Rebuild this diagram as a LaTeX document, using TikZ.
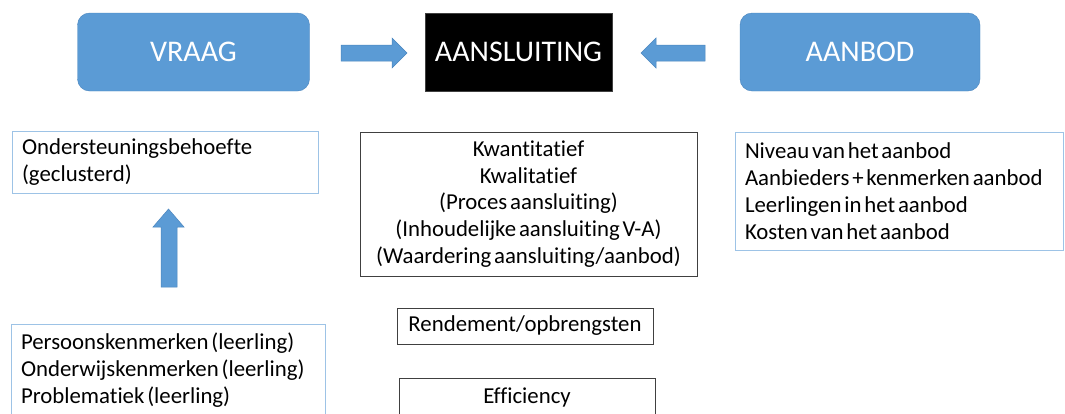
\documentclass[tikz,border=0pt]{standalone}
\usepackage{fontspec}
\setmainfont{Carlito}[Ligatures=NoCommon, WordSpace={0.55,0.5,0.3}]
\definecolor{bfill}{HTML}{5B9BD5}
\definecolor{bdark}{HTML}{4A85BE}
\definecolor{blight}{HTML}{9DC3E6}
\definecolor{gline}{HTML}{404040}
\tikzset{
  topbox/.style={draw=bdark, fill=bfill, rounded corners=12pt, text=white,
    minimum height=78pt, font=\fontsize{30}{34}\selectfont, inner sep=0pt},
  blackbox/.style={draw=gline, fill=black, text=white,
    minimum height=78pt, font=\fontsize{30}{34}\selectfont, inner sep=0pt},
  bluelist/.style={draw=blight, line width=1pt, align=flush left, inner xsep=10pt, inner ysep=0pt,
    font=\fontsize{22.8}{26.8}\selectfont},
  graylist/.style={draw=gline, line width=0.8pt, align=center, inner xsep=0pt, inner ysep=0pt,
    font=\fontsize{22.8}{26.8}\selectfont},
  blockarrow/.style={draw=bdark, fill=bfill, line width=0.5pt},
}
\begin{document}
\begin{tikzpicture}[x=1pt,y=-1pt]
\useasboundingbox (0,0) rectangle (1065,413);
\clip (0,0) rectangle (1065,413);
% top row
\node[topbox, minimum width=232pt] (vraag) at (193.5,52) {VRAAG};
\node[blackbox, minimum width=187pt] (aansl) at (518.5,52) {AANSLUITING};
\node[topbox, minimum width=240pt] (aanbod) at (860,52) {AANBOD};
% block arrows
\filldraw[blockarrow] (341,45) -- (392,45) -- (392,38) -- (407,53) -- (392,68) -- (392,61) -- (341,61) -- cycle;
\filldraw[blockarrow] (705,45) -- (656,45) -- (656,38) -- (641,53) -- (656,68) -- (656,61) -- (705,61) -- cycle;
% left column
\node[bluelist, text width=286pt, minimum height=62pt] (onder) at (165,162)
  {\mbox{Ondersteuningsbehoefte}\\\mbox{(geclusterd)}};
\filldraw[blockarrow] (161,287) -- (161,227) -- (153,227) -- (168.5,209) -- (184,227) -- (177,227) -- (177,287) -- cycle;
\node[bluelist, text width=294pt, minimum height=92pt] (pers) at (168,370)
  {\mbox{Persoonskenmerken (leerling)}\\\mbox{Onderwijskenmerken (leerling)}\\\mbox{Problematiek (leerling)}};
% middle column
\node[graylist, minimum width=337pt, minimum height=144pt] (kwan) at (528.5,204)
  {Kwantitatief\\Kwalitatief\\(Proces aansluiting)\\(Inhoudelijke aansluiting V-A)\\(Waardering aansluiting/aanbod)};
\node[graylist, minimum width=256pt, minimum height=36pt] (rend) at (525,326)
  {Rendement/opbrengsten};
\node[graylist, minimum width=256pt, minimum height=38pt] (eff) at (527,397)
  {Efficiency};
% right column
\node[bluelist, text width=308pt, minimum height=118pt] (niv) at (899,191)
  {\mbox{Niveau van het aanbod}\\\mbox{Aanbieders + kenmerken aanbod}\\\mbox{Leerlingen in het aanbod}\\\mbox{Kosten van het aanbod}};
\end{tikzpicture}
\end{document}
